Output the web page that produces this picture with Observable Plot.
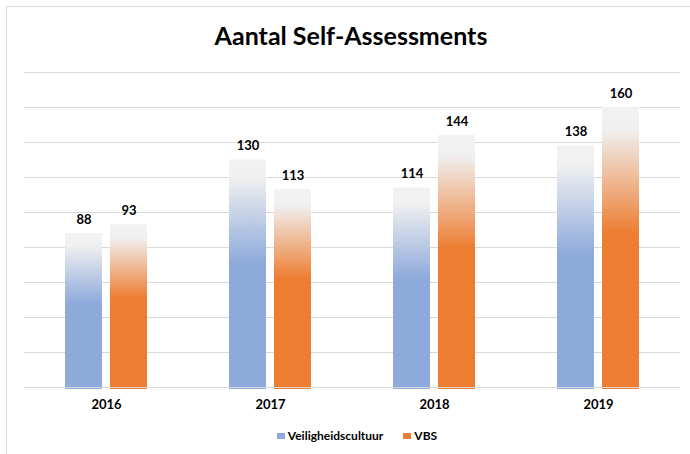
<!DOCTYPE html>
<html>
<head>
<meta charset="utf-8">
<script src="https://cdn.jsdelivr.net/npm/d3@7"></script>
<script src="https://cdn.jsdelivr.net/npm/@observablehq/plot@0.6"></script>
<style>
  html, body { margin: 0; padding: 0; background: #fff; width: 690px; height: 454px; overflow: hidden; font-family: Lato, "Open Sans", sans-serif; }
  #frame { position: absolute; left: 6px; top: 6px; width: 700px; height: 470px; border: 1px solid #d9d9d9; box-sizing: border-box; }
  #title { position: absolute; left: 6px; width: 690px; top: 20px; text-align: center; font-size: 25px; font-weight: bold; color: #000; }
  #chart { position: absolute; left: 0; top: 60px; }
  #legend { position: absolute; left: 12px; width: 690px; top: 428px; text-align: center; font-size: 12px; font-weight: bold; color: #000; }
  .sw { display: inline-block; width: 8px; height: 6px; margin-right: 3px; vertical-align: 1px; }
  .item { margin: 0 10px; }
</style>
</head>
<body>
<div id="frame"></div>
<div id="title">Aantal Self-Assessments</div>
<div id="chart"></div>
<div id="legend"></div>
<script>
const years = ["2016", "2017", "2018", "2019"];
const seriesNames = ["Veiligheidscultuur", "VBS"];
const veiligheidscultuur = [88, 130, 114, 138];
const vbs = [93, 113, 144, 160];
const seriesColors = ["#8eaadb", "#ed7d31"];
const yTicks = [0, 20, 40, 60, 80, 100, 120, 140, 160, 180];

const data = [];
years.forEach((yr, i) => {
  data.push({year: yr, series: seriesNames[0], value: veiligheidscultuur[i]});
  data.push({year: yr, series: seriesNames[1], value: vbs[i]});
});
const gradId = s => s === seriesNames[0] ? "url(#gradBlue)" : "url(#gradOrange)";

const plot = Plot.plot({
  width: 690,
  height: 360,
  marginLeft: 23,
  marginRight: 9,
  marginTop: 12,
  marginBottom: 33,
  fx: {domain: years, padding: 0, label: null},
  x: {domain: seriesNames, paddingInner: 0.176, paddingOuter: 0.9, axis: null},
  y: {domain: [0, 180], axis: null},
  style: {fontFamily: "Lato, 'Open Sans', sans-serif", color: "#000"},
  marks: [
    Plot.ruleY(yTicks.slice(1), {stroke: "#d9d9d9", strokeWidth: 1.2, strokeOpacity: 1}),
    Plot.barY(data, {fx: "year", x: "series", y: "value", fill: d => gradId(d.series), insetBottom: -2}),
    Plot.ruleY([0], {stroke: "#d9d9d9", strokeWidth: 1.2, strokeOpacity: 1}),
    Plot.text(data, {fx: "year", x: "series", y: "value", text: d => String(d.value), dy: -14, fontSize: 13, fontWeight: "bold", fill: "#000"}),
    Plot.axisFx({anchor: "bottom", tickSize: 0, tickPadding: 12, fontSize: 13, fontWeight: "bold", label: null})
  ]
});

const svg = d3.select(plot);
const defs = svg.insert("defs", ":first-child");
function addGrad(id, color) {
  const g = defs.append("linearGradient").attr("id", id).attr("x1", 0).attr("y1", 0).attr("x2", 0).attr("y2", 1);
  g.append("stop").attr("offset", 0).attr("stop-color", "#f2f2f2");
  g.append("stop").attr("offset", 0.08).attr("stop-color", "#f0f0f0");
  g.append("stop").attr("offset", 0.45).attr("stop-color", color);
  g.append("stop").attr("offset", 1).attr("stop-color", color);
}
addGrad("gradBlue", seriesColors[0]);
addGrad("gradOrange", seriesColors[1]);
document.getElementById("chart").appendChild(plot);

const legend = document.getElementById("legend");
seriesNames.forEach((s, i) => {
  const span = document.createElement("span");
  span.className = "item";
  span.innerHTML = `<span class="sw" style="background:${seriesColors[i]}"></span>${s}`;
  legend.appendChild(span);
});
</script>
</body>
</html>
